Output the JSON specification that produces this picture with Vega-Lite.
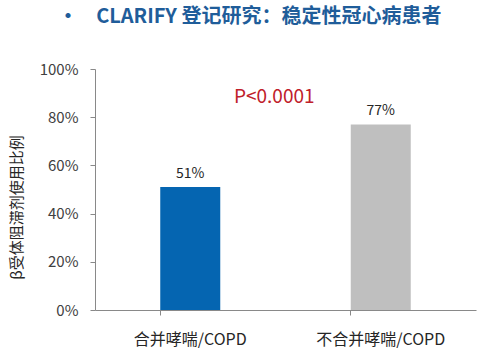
{
  "$schema": "https://vega.github.io/schema/vega-lite/v6.json",
  "width": 381,
  "height": 241,
  "autosize": {"type": "none"},
  "padding": {"left": 95, "top": 69, "right": 16, "bottom": 49},
  "background": "white",
  "config": {"view": {"stroke": null}, "font": "Noto Sans CJK SC"},
  "title": {
    "text": "•\u00a0\u00a0\u00a0\u00a0CLARIFY 登记研究：稳定性冠心病患者",
    "anchor": "start",
    "frame": "group",
    "dx": -37,
    "offset": 35,
    "fontSize": 20,
    "fontWeight": "bold",
    "color": "#1F5D9A",
    "font": "Noto Sans CJK SC"
  },
  "data": {
    "values": [
      {"group": "合并哮喘/COPD", "rate": 0.51, "label": "51%"},
      {"group": "不合并哮喘/COPD", "rate": 0.77, "label": "77%"}
    ]
  },
  "encoding": {
    "x": {
      "field": "group",
      "type": "nominal",
      "sort": null,
      "scale": {"paddingInner": 0.685, "paddingOuter": 0.3425},
      "axis": {
        "title": null,
        "labelAngle": 0,
        "labelFontSize": 16,
        "labelColor": "#262626",
        "labelPadding": 16,
        "bandPosition": 0,
        "domainColor": "#898989",
        "tickColor": "#898989",
        "tickSize": 5,
        "labelFont": "Noto Sans CJK SC"
      }
    }
  },
  "layer": [
    {
      "mark": {"type": "bar"},
      "encoding": {
        "y": {
          "field": "rate",
          "type": "quantitative",
          "scale": {"domain": [0, 1]},
          "axis": {
            "title": "β受体阻滞剂使用比例",
            "titleFontSize": 15,
            "titleFontWeight": "normal",
            "titleColor": "#262626",
            "titlePadding": 15,
            "titleY": 138,
            "format": ".0%",
            "values": [0, 0.2, 0.4, 0.6, 0.8, 1],
            "grid": false,
            "labelFontSize": 15,
            "labelColor": "#404040",
            "labelPadding": 12,
            "domainColor": "#898989",
            "tickColor": "#898989",
            "tickSize": 5,
            "labelFont": "Noto Sans CJK SC",
            "titleFont": "Noto Sans CJK SC"
          }
        },
        "color": {
          "field": "group",
          "type": "nominal",
          "sort": null,
          "scale": {"range": ["#0565B1", "#BFBFBF"]},
          "legend": null
        }
      }
    },
    {
      "mark": {"type": "text", "dy": -13, "fontSize": 14, "color": "#262626"},
      "encoding": {
        "y": {"field": "rate", "type": "quantitative"},
        "text": {"field": "label"}
      }
    },
    {
      "data": {"values": [{"group": "合并哮喘/COPD", "ptext": "P<0.0001", "pos": 0.885}]},
      "mark": {"type": "text", "fontSize": 19, "color": "#C0202A", "dx": 84},
      "encoding": {
        "x": {"field": "group", "type": "nominal"},
        "y": {"field": "pos", "type": "quantitative"},
        "text": {"field": "ptext"}
      }
    }
  ]
}
